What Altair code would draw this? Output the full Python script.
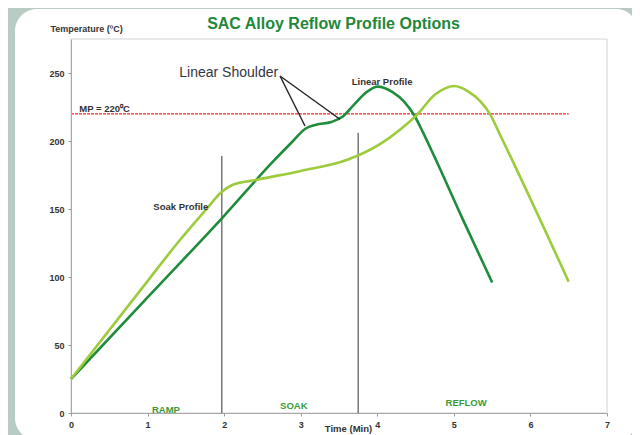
import altair as alt
import pandas as pd

# ---- data ----
linear_time = [0.0, 1.0, 2.0, 2.64, 2.9, 3.06, 3.2, 3.4, 3.55, 3.7, 3.85, 3.93, 4.0, 4.2, 4.35, 4.47, 4.6, 4.75, 5.12, 5.5]
linear_temp = [25, 85, 145, 185, 200, 209, 212, 214, 218, 227, 235.5, 238.5, 240, 236, 229, 220, 206, 188, 142, 96]

soak_time = [0.0, 1.0, 1.42, 1.8, 1.955, 2.1, 2.43, 3.0, 3.6, 4.03, 4.3, 4.53, 4.75, 4.88, 5.0, 5.2, 5.35, 5.47, 5.6, 5.77, 6.5]
soak_temp = [25, 97, 127, 152, 162, 167.5, 171.5, 178, 186, 197.5, 208.5, 220, 234, 238.5, 240.4, 236, 229, 220, 205, 185, 96.5]

mp_temp = 220
mp_start, mp_end = 0.0, 6.5

divider_time = [1.97, 3.75]
divider_top = [189, 206]

phase_names = ["RAMP", "SOAK", "REFLOW"]
phase_time = [1.24, 2.91, 5.16]
phase_temp = [2.5, 5.5, 7]

x_ticks = [0, 1, 2, 3, 4, 5, 6, 7]
y_ticks = [0, 50, 100, 150, 200, 250]

arrow_x1 = [2.73, 2.73]
arrow_y1 = [247.8, 247.8]
arrow_x2 = [3.056, 3.513]
arrow_y2 = [211, 216]

# ---- styling ----
FONT = "Liberation Sans"
DARK = "#1f8c3b"
LIGHT = "#9ccb3b"
TXT = "#333333"

x_scale = alt.Scale(domain=[0, 7], nice=False)
y_scale = alt.Scale(domain=[0, 275], nice=False)

x_axis = alt.Axis(values=x_ticks, format="d", title="Time (Min)", titleX=277, titleY=18,
                  titleAlign="center", titleBaseline="alphabetic", titleFontSize=9.5,
                  titleFontWeight="bold", titleColor=TXT, titleFont=FONT,
                  labelFontSize=9, labelFontWeight="bold", labelColor=TXT, labelFont=FONT,
                  labelPadding=4, tickSize=3, tickColor="#999999", domainColor="#a8a8a8",
                  grid=False, labelFlush=False, zindex=1)
y_axis = alt.Axis(values=y_ticks, format="d", title="Temperature (ºC)", titleAngle=0,
                  titleX=-21, titleY=-8, titleAlign="left", titleBaseline="alphabetic",
                  titleFontSize=9, titleFontWeight="bold", titleColor=TXT, titleFont=FONT,
                  labelFontSize=9, labelFontWeight="bold", labelColor=TXT, labelFont=FONT,
                  labelPadding=4, tickSize=3, tickColor="#999999", domainColor="#a8a8a8",
                  grid=False, zindex=1)

X = lambda f="time": alt.X(f"{f}:Q", scale=x_scale, axis=x_axis)
Y = lambda f="temp": alt.Y(f"{f}:Q", scale=y_scale, axis=y_axis)

# white rounded panel behind the chart (decoration)
panel = alt.Chart(alt.Data(values=[{}])).mark_rect(color="white", cornerRadius=22).encode(
    x=alt.value(-56), x2=alt.value(567), y=alt.value(-30), y2=alt.value(401)
)

frame_df = pd.DataFrame({"time": [0], "time2": [7], "temp": [0], "temp2": [275]})
frame = alt.Chart(frame_df).mark_rect(filled=False, stroke="#d2d2d2", strokeWidth=1).encode(
    x=X(), x2="time2:Q", y=Y(), y2="temp2:Q"
)

lines_df = pd.DataFrame({
    "time": linear_time + soak_time,
    "temp": linear_temp + soak_temp,
    "profile": ["Linear"] * len(linear_time) + ["Soak"] * len(soak_time),
})
lines = alt.Chart(lines_df).mark_line(strokeWidth=2.6, interpolate="monotone").encode(
    x=X(), y=Y(),
    color=alt.Color("profile:N", scale=alt.Scale(domain=["Linear", "Soak"], range=[DARK, LIGHT]), legend=None),
    order=alt.Order("time:Q"),
)

mp_df = pd.DataFrame({"time": [mp_start], "time2": [mp_end], "temp": [mp_temp]})
mp_line = alt.Chart(mp_df).mark_rule(color="#ff1f1f", strokeWidth=1.2, strokeDash=[3, 1]).encode(
    x=X(), x2="time2:Q", y=Y()
)

div_df = pd.DataFrame({"time": divider_time, "temp": [0, 0], "temp2": divider_top})
dividers = alt.Chart(div_df).mark_rule(color="#333333", strokeWidth=1).encode(
    x=X(), y=Y(), y2="temp2:Q"
)

arrow_df = pd.DataFrame({"time": arrow_x1, "temp": arrow_y1, "time2": arrow_x2, "temp2": arrow_y2})
arrows = alt.Chart(arrow_df).mark_rule(color="#222222", strokeWidth=1.4).encode(
    x=X(), y=Y(), x2="time2:Q", y2="temp2:Q"
)

phase_df = pd.DataFrame({"time": phase_time, "temp": phase_temp, "label": phase_names})
phases = alt.Chart(phase_df).mark_text(font=FONT, fontSize=9.5, fontWeight="bold", color="#3a9a3a",
                                       align="center", baseline="middle").encode(
    x=X(), y=Y(), text="label:N"
)

ann_df = pd.DataFrame({"time": [1.075, 3.666], "temp": [151.7, 243.6], "label": ["Soak Profile", "Linear Profile"]})
ann = alt.Chart(ann_df).mark_text(font=FONT, fontSize=9.5, fontWeight="bold", color=TXT,
                                  align="left", baseline="middle").encode(
    x=X(), y=Y(), text="label:N"
)

mp_lab_df = pd.DataFrame({"time": [0.108], "temp": [223.3], "label": ["MP = 220⁰C"]})
mp_lab = alt.Chart(mp_lab_df).mark_text(font=FONT, fontSize=9.5, fontWeight="bold", color=TXT,
                                        align="left", baseline="middle").encode(
    x=X(), y=Y(), text="label:N"
)

sh_df = pd.DataFrame({"time": [1.414], "temp": [249.8], "label": ["Linear Shoulder"]})
shoulder = alt.Chart(sh_df).mark_text(font=FONT, fontSize=14, color="#34363f",
                                      align="left", baseline="middle").encode(
    x=X(), y=Y(), text="label:N"
)

chart = alt.layer(
    panel, frame, mp_line, dividers, lines, arrows, phases, ann, mp_lab, shoulder
).properties(
    width=536,
    height=374,
    padding={"left": 63, "top": 31, "right": 25, "bottom": 22},
    autosize=alt.AutoSizeParams(type="none"),
    background="#b9ccc4",
    title=alt.TitleParams("SAC Alloy Reflow Profile Options", font=FONT, fontSize=16,
                          fontWeight="bold", color="#23873a", anchor="middle", frame="group",
                          baseline="alphabetic", offset=0, dx=-5.5, dy=36, zindex=1),
).configure_view(strokeWidth=0).configure(font=FONT)

chart.save("out.html", embed_options={"renderer": "svg", "actions": False})
